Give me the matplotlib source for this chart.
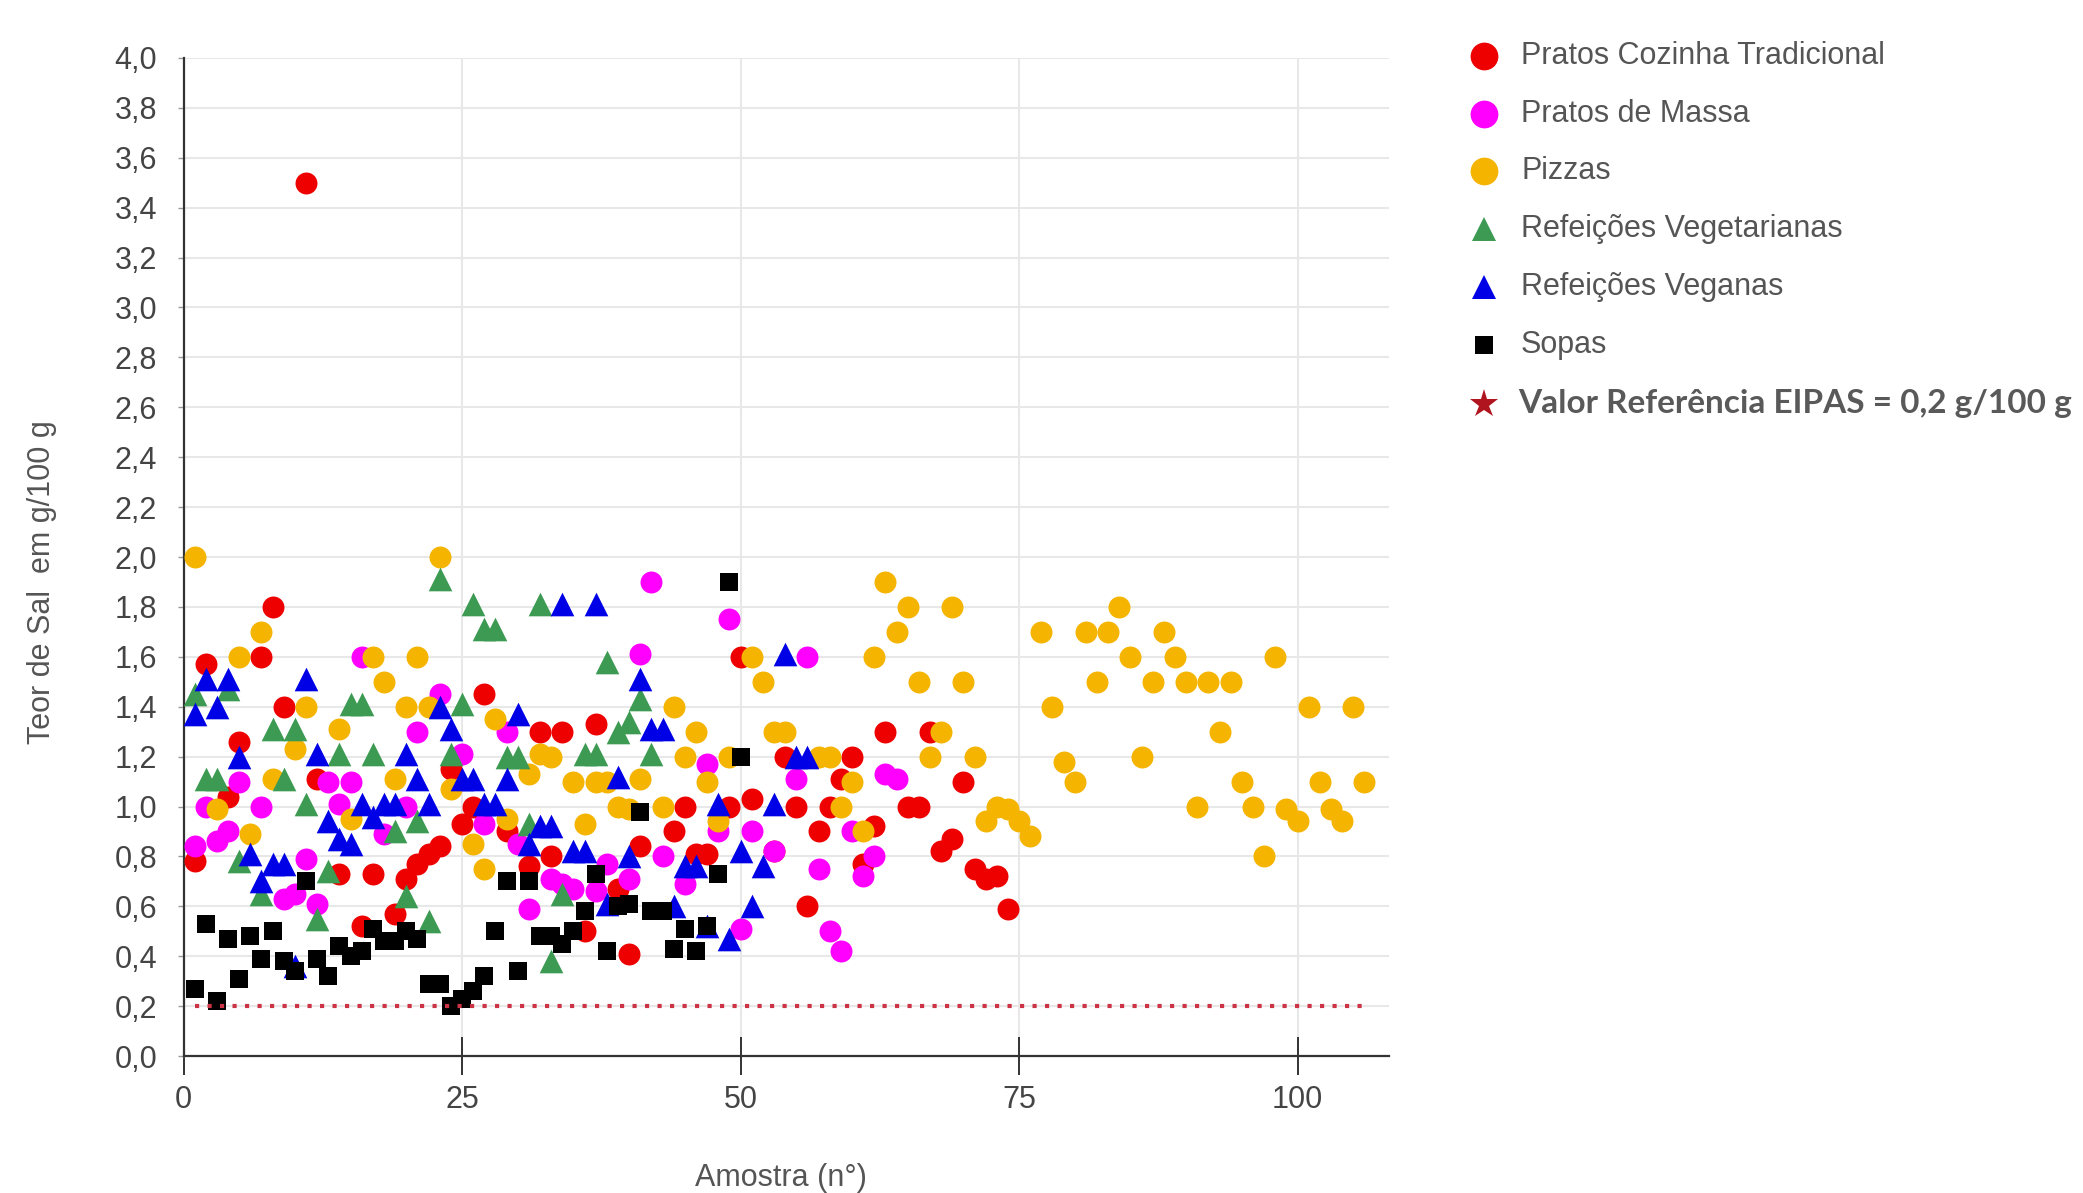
import matplotlib
matplotlib.use("Agg")
import matplotlib.pyplot as plt
from matplotlib.lines import Line2D
from matplotlib.ticker import FuncFormatter

# Pratos Cozinha Tradicional
RED_X = [1, 2, 4, 5, 7, 8, 9, 11, 12, 14, 16, 17, 19, 20, 21, 22, 23, 24, 25, 26,
         27, 29, 31, 32, 33, 34, 36, 37, 39, 40, 41, 44, 45, 46, 47, 49, 50, 51, 53, 54,
         55, 56, 57, 58, 59, 60, 61, 62, 63, 65, 66, 67, 68, 69, 70, 71, 72, 73, 74]
RED_Y = [0.78, 1.57, 1.04, 1.26, 1.60, 1.80, 1.40, 3.50, 1.11, 0.73, 0.52, 0.73, 0.57, 0.71, 0.77, 0.81, 0.84, 1.15, 0.93, 1.00,
         1.45, 0.90, 0.76, 1.30, 0.80, 1.30, 0.50, 1.33, 0.67, 0.41, 0.84, 0.90, 1.00, 0.81, 0.81, 1.00, 1.60, 1.03, 0.82, 1.20,
         1.00, 0.60, 0.90, 1.00, 1.11, 1.20, 0.77, 0.92, 1.30, 1.00, 1.00, 1.30, 0.82, 0.87, 1.10, 0.75, 0.71, 0.72, 0.59]

# Pratos de Massa
MAG_X = [1, 2, 3, 4, 5, 7, 9, 10, 11, 12, 13, 14, 15, 16, 18, 20, 21, 23, 25, 27,
         29, 30, 31, 33, 34, 35, 37, 38, 40, 41, 42, 43, 45, 47, 48, 49, 50, 51, 53, 55,
         56, 57, 58, 59, 60, 61, 62, 63, 64]
MAG_Y = [0.84, 1.00, 0.86, 0.90, 1.10, 1.00, 0.63, 0.65, 0.79, 0.61, 1.10, 1.01, 1.10, 1.60, 0.89, 1.00, 1.30, 1.45, 1.21, 0.93,
         1.30, 0.85, 0.59, 0.71, 0.69, 0.67, 0.66, 0.77, 0.71, 1.61, 1.90, 0.80, 0.69, 1.17, 0.90, 1.75, 0.51, 0.90, 0.82, 1.11,
         1.60, 0.75, 0.50, 0.42, 0.90, 0.72, 0.80, 1.13, 1.11]

# Pizzas
PIZ_X = [1, 3, 5, 6, 7, 8, 10, 11, 14, 15, 17, 18, 19, 20, 21, 22, 23, 24, 26, 27,
         28, 29, 31, 32, 33, 35, 36, 37, 38, 39, 40, 41, 43, 44, 45, 46, 47, 48, 49, 51,
         52, 53, 54, 57, 58, 59, 60, 61, 62, 63, 64, 65, 66, 67, 68, 69, 70, 71, 72, 73,
         74, 75, 76, 77, 78, 79, 80, 81, 82, 83, 84, 85, 86, 87, 88, 89, 90, 91, 92, 93,
         94, 95, 96, 97, 98, 99, 100, 101, 102, 103, 104, 105, 106]
PIZ_Y = [2.00, 0.99, 1.60, 0.89, 1.70, 1.11, 1.23, 1.40, 1.31, 0.95, 1.60, 1.50, 1.11, 1.40, 1.60, 1.40, 2.00, 1.07, 0.85, 0.75,
         1.35, 0.95, 1.13, 1.21, 1.20, 1.10, 0.93, 1.10, 1.10, 1.00, 0.99, 1.11, 1.00, 1.40, 1.20, 1.30, 1.10, 0.94, 1.20, 1.60,
         1.50, 1.30, 1.30, 1.20, 1.20, 1.00, 1.10, 0.90, 1.60, 1.90, 1.70, 1.80, 1.50, 1.20, 1.30, 1.80, 1.50, 1.20, 0.94, 1.00,
         0.99, 0.94, 0.88, 1.70, 1.40, 1.18, 1.10, 1.70, 1.50, 1.70, 1.80, 1.60, 1.20, 1.50, 1.70, 1.60, 1.50, 1.00, 1.50, 1.30,
         1.50, 1.10, 1.00, 0.80, 1.60, 0.99, 0.94, 1.40, 1.10, 0.99, 0.94, 1.40, 1.10]

# Refeições Vegetarianas
GRN_X = [1, 2, 3, 4, 5, 7, 8, 9, 10, 11, 12, 13, 14, 15, 16, 17, 19, 20, 21, 22,
         23, 24, 25, 26, 27, 28, 29, 30, 31, 32, 33, 34, 36, 37, 38, 39, 40, 41, 42]
GRN_Y = [1.45, 1.11, 1.11, 1.47, 0.78, 0.65, 1.31, 1.11, 1.31, 1.01, 0.55, 0.74, 1.21, 1.41, 1.41, 1.21, 0.90, 0.64, 0.94, 0.54,
         1.91, 1.21, 1.41, 1.81, 1.71, 1.71, 1.20, 1.20, 0.93, 1.81, 0.38, 0.65, 1.21, 1.21, 1.58, 1.30, 1.34, 1.43, 1.21]

# Refeições Veganas
BLU_X = [1, 2, 3, 4, 5, 6, 7, 8, 9, 10, 11, 12, 13, 14, 15, 16, 17, 18, 19, 20,
         21, 22, 23, 24, 25, 26, 27, 28, 29, 30, 31, 32, 33, 34, 35, 36, 37, 38, 39, 40,
         41, 42, 43, 44, 45, 46, 47, 48, 49, 50, 51, 52, 53, 54, 55, 56]
BLU_Y = [1.37, 1.51, 1.40, 1.51, 1.20, 0.81, 0.70, 0.77, 0.77, 0.36, 1.51, 1.21, 0.94, 0.87, 0.85, 1.01, 0.96, 1.01, 1.01, 1.21,
         1.11, 1.01, 1.40, 1.31, 1.11, 1.11, 1.01, 1.01, 1.11, 1.37, 0.85, 0.92, 0.92, 1.81, 0.82, 0.82, 1.81, 0.61, 1.12, 0.80,
         1.51, 1.31, 1.31, 0.60, 0.76, 0.76, 0.52, 1.01, 0.47, 0.82, 0.60, 0.76, 1.01, 1.61, 1.20, 1.20]

# Sopas
SOP_X = [1, 2, 3, 4, 5, 6, 7, 8, 9, 10, 11, 12, 13, 14, 15, 16, 17, 18, 19, 20,
         21, 22, 23, 24, 25, 26, 27, 28, 29, 30, 31, 32, 33, 34, 35, 36, 37, 38, 39, 40,
         41, 42, 43, 44, 45, 46, 47, 48, 49, 50]
SOP_Y = [0.27, 0.53, 0.22, 0.47, 0.31, 0.48, 0.39, 0.50, 0.38, 0.34, 0.70, 0.39, 0.32, 0.44, 0.40, 0.42, 0.51, 0.46, 0.46, 0.50,
         0.47, 0.29, 0.29, 0.20, 0.23, 0.26, 0.32, 0.50, 0.70, 0.34, 0.70, 0.48, 0.48, 0.45, 0.50, 0.58, 0.73, 0.42, 0.60, 0.61,
         0.98, 0.58, 0.58, 0.43, 0.51, 0.42, 0.52, 0.73, 1.90, 1.20]

# Valor de referência EIPAS
REF_X = [1, 106]
REF_Y = [0.2, 0.2]

LABELS = ["Pratos Cozinha Tradicional", "Pratos de Massa", "Pizzas",
          "Refeições Vegetarianas", "Refeições Veganas", "Sopas",
          "Valor Referência EIPAS = 0,2 g/100 g"]
COLORS = ["#ee0000", "#ff00ff", "#f4b400", "#3c9a52", "#0000e6", "#000000", "#b0141e"]

plt.rcParams['font.family'] = ['Liberation Sans', 'DejaVu Sans']

fig = plt.figure(figsize=(20.83, 11.93), dpi=100)
ax = fig.add_axes([0.0881, 0.1148, 0.5787, 0.8366])

series = [(RED_X, RED_Y, 'o', 250), (MAG_X, MAG_Y, 'o', 250), (PIZ_X, PIZ_Y, 'o', 250),
          (GRN_X, GRN_Y, '^', 290), (BLU_X, BLU_Y, '^', 290), (SOP_X, SOP_Y, 's', 150)]
for i, (xs, ys, mk, size) in enumerate(series):
    ax.scatter(xs, ys, s=size, marker=mk, color=COLORS[i], linewidths=0, zorder=3 + i)

ax.plot(REF_X, REF_Y, color="#cc3344", linewidth=3, linestyle=(0, (1, 2)), zorder=10)

# Axes and grid
ax.set_xlim(0, 108.2)
ax.set_ylim(0, 4.0)
ax.set_xticks([0, 25, 50, 75, 100])
ax.set_yticks([i * 0.2 for i in range(21)])
ax.yaxis.set_major_formatter(FuncFormatter(lambda v, p: f"{v:.1f}".replace(".", ",")))
ax.grid(True, color="#e8e8e8", linewidth=1.5, zorder=0)
ax.set_axisbelow(True)
for side in ["top", "right"]:
    ax.spines[side].set_visible(False)
for side in ["left", "bottom"]:
    ax.spines[side].set_color("#333333")
    ax.spines[side].set_linewidth(1.6)

ax.tick_params(axis="x", direction="inout", length=27, width=1.4, color="#333333",
               labelsize=22, labelcolor="#444444", pad=7)
ax.tick_params(axis="y", direction="out", length=4, width=1, color="#999999",
               labelsize=22, labelcolor="#444444", pad=15)

ax.set_xlabel("Amostra (n°)", fontsize=22, color="#555555")
ax.xaxis.set_label_coords(0.4957, -0.122)
ax.xaxis.label.set_verticalalignment("center")
ax.set_ylabel("Teor de Sal  em g/100 g", fontsize=22, color="#555555")
ax.yaxis.set_label_coords(-0.117, 0.475)
ax.yaxis.label.set_verticalalignment("center")

# Legend, drawn in figure pixels
W, H = 2083, 1193
rows = [55.8, 114.2, 171.4, 228.5, 286.9, 345.4, 403.8]
leg_markers = [('o', 20), ('o', 20), ('o', 20), ('^', 17), ('^', 17), ('s', 13), ('*', 21)]
for i, (lab, y) in enumerate(zip(LABELS, rows)):
    mk, ms = leg_markers[i]
    fig.add_artist(Line2D([1484 / W], [1 - y / H], marker=mk, markersize=ms, color=COLORS[i],
                          markeredgewidth=0, linestyle="none", transform=fig.transFigure))
    if i < 6:
        fig.text(1521 / W, 1 - y / H, lab, fontsize=22, color="#555555", va="center", ha="left")
    else:
        fig.text(1518 / W, 1 - y / H, lab, fontsize=24, color="#595959", va="center", ha="left",
                 family=["Lato", "DejaVu Sans"], fontweight="bold")

fig.savefig("out.png", dpi=100)
